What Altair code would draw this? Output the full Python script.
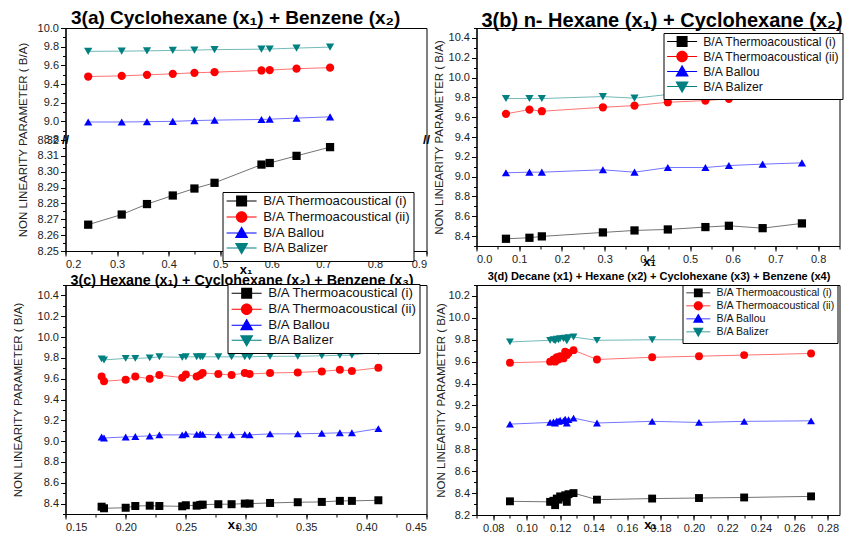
import altair as alt
import pandas as pd

SERIES = ["B/A Thermoacoustical (i)", "B/A Thermoacoustical (ii)", "B/A Ballou", "B/A Balizer"]
COLORS = ["#000000", "#ff0000", "#0000ff", "#008080"]
SHAPES = ["square", "circle", "triangle-up", "triangle-down"]
LEGEND_PATHS = [
    "M-5,-0.1H1V0.1H-5ZM-3.1,-1.1H-0.9V1.1H-3.1Z",
    "M-5,-0.1H1V0.1H-5ZM-0.85,0A1.15,1.15,0,1,1,-3.15,0A1.15,1.15,0,1,1,-0.85,0Z",
    "M-5,-0.1H1V0.1H-5ZM-2,-1.35L-0.65,1L-3.35,1Z",
    "M-5,-0.1H1V0.1H-5ZM-3.35,-1L-0.65,-1L-2,1.35Z",
]
Y_TITLE = "NON LINEARITY PARAMETER ( B/A)"
FONT = "Liberation Sans"

# ---------------- 3(a) ----------------
A_X = [0.244, 0.309, 0.358, 0.408, 0.450, 0.489, 0.580, 0.596, 0.648, 0.713]
A_TH1 = [8.2666, 8.2730, 8.2796, 8.2850, 8.2894, 8.2930, 8.3045, 8.3055, 8.3100, 8.3155]
A_TH2 = [9.480, 9.487, 9.498, 9.509, 9.520, 9.527, 9.545, 9.549, 9.564, 9.575]
A_BALLOU = [8.993, 8.993, 8.996, 9.000, 9.008, 9.013, 9.020, 9.023, 9.035, 9.048]
A_BALIZER = [9.750, 9.752, 9.755, 9.760, 9.763, 9.768, 9.773, 9.775, 9.785, 9.795]
A_LOW = [8.25, 8.32]
A_HIGH = [8.8, 10.0]

# ---------------- 3(b) ----------------
B_X = [0.069, 0.124, 0.153, 0.296, 0.370, 0.448, 0.536, 0.591, 0.670, 0.762]
B_TH1 = [8.373, 8.383, 8.397, 8.437, 8.457, 8.467, 8.491, 8.504, 8.480, 8.528]
B_TH2 = [9.634, 9.677, 9.660, 9.700, 9.717, 9.751, 9.768, 9.785, 9.876, 9.842]
B_BALLOU = [9.039, 9.045, 9.045, 9.069, 9.045, 9.092, 9.092, 9.112, 9.126, 9.139]
B_BALIZER = [9.788, 9.788, 9.788, 9.808, 9.792, 9.829, 9.832, 9.839, 9.859, 9.866]

# ---------------- 3(c) ----------------
C_X = [0.180, 0.182, 0.200, 0.208, 0.220, 0.228, 0.247, 0.250, 0.259, 0.262, 0.264,
       0.277, 0.288, 0.299, 0.303, 0.320, 0.343, 0.363, 0.378, 0.388, 0.410]
C_TH1 = [8.370, 8.355, 8.360, 8.377, 8.380, 8.377, 8.374, 8.384, 8.380, 8.387, 8.390,
         8.394, 8.394, 8.400, 8.400, 8.406, 8.413, 8.416, 8.426, 8.426, 8.432]
C_TH2 = [9.620, 9.575, 9.590, 9.620, 9.600, 9.635, 9.610, 9.640, 9.620, 9.635, 9.655,
         9.645, 9.635, 9.655, 9.645, 9.655, 9.660, 9.670, 9.685, 9.675, 9.705]
C_BALLOU = [9.040, 9.030, 9.040, 9.045, 9.050, 9.060, 9.060, 9.070, 9.065, 9.070, 9.065,
            9.060, 9.060, 9.065, 9.060, 9.070, 9.070, 9.075, 9.080, 9.080, 9.120]
C_BALIZER = [9.790, 9.780, 9.795, 9.795, 9.800, 9.810, 9.805, 9.810, 9.810, 9.810, 9.810,
             9.810, 9.810, 9.810, 9.810, 9.815, 9.815, 9.820, 9.825, 9.825, 9.860]

# ---------------- 3(d) ----------------
D_X = [0.090, 0.114, 0.116, 0.117, 0.118, 0.119, 0.120, 0.122, 0.123, 0.124, 0.125,
       0.128, 0.142, 0.175, 0.203, 0.230, 0.270]
D_TH1 = [8.325, 8.320, 8.330, 8.290, 8.350, 8.340, 8.370, 8.360, 8.380, 8.320, 8.390,
         8.400, 8.340, 8.350, 8.355, 8.360, 8.370]
D_TH2 = [9.590, 9.600, 9.620, 9.600, 9.640, 9.620, 9.650, 9.630, 9.690, 9.660, 9.680,
         9.705, 9.620, 9.640, 9.650, 9.660, 9.675]
D_BALLOU = [9.030, 9.045, 9.050, 9.040, 9.060, 9.055, 9.065, 9.060, 9.075, 9.040, 9.070,
            9.085, 9.040, 9.055, 9.045, 9.055, 9.060]
D_BALIZER = [9.780, 9.795, 9.800, 9.790, 9.805, 9.800, 9.810, 9.810, 9.815, 9.790, 9.820,
             9.825, 9.795, 9.800, 9.800, 9.805, 9.805]

TITLES = [
    "3(a) Cyclohexane (x₁) + Benzene (x₂)",
    "3(b) n- Hexane (x₁) + Cyclohexane (x₂)",
    "3(c) Hexane (x₁) + Cyclohexane (x₂) + Benzene (x₃)",
    "3(d) Decane (x1) + Hexane (x2) + Cyclohexane (x3) + Benzene (x4)",
]


def long_df(xs, cols):
    rows = []
    for name, vals in zip(SERIES, cols):
        for i, (xv, yv) in enumerate(zip(xs, vals)):
            rows.append({"x": xv, "y": yv, "series": name, "i": i})
    return pd.DataFrame(rows)


def ticks(lo, hi, step):
    n = int(round((hi - lo) / step))
    return [round(lo + k * step, 4) for k in range(n + 1)]


def major_axis(values, fmt, title, orient, label_expr=None, **kw):
    extra = {"labelExpr": label_expr} if label_expr else {}
    return alt.Axis(values=values, format=fmt, title=title, orient=orient, tickSize=5,
                    labelOverlap=False, grid=False, **extra, **kw)


def minor_axis(values, orient):
    return alt.Axis(values=values, labels=False, domain=False, tickSize=3, title=None,
                    orient=orient, grid=False)


def y_title_kw(tx, ty=None):
    kw = dict(titleX=tx, titleAngle=270, titleBaseline="middle", titleAlign="center",
              titleFontWeight="normal", titleFontSize=11.5)
    if ty is not None:
        kw["titleY"] = ty
    return kw


def x_title_kw(tx, ty):
    return dict(titleX=tx, titleY=ty, titleBaseline="top", titleAlign="center",
                titleFontWeight="bold", titleFontSize=13, titleColor="black")


def make_legend(lx, ly, fs, rowpad, sym=100, off=20):
    return alt.Legend(orient="none", legendX=lx, legendY=ly, title=None,
                      strokeColor="black", fillColor="white", padding=2.5,
                      labelFont=FONT, labelFontSize=fs, labelColor="#111", labelLimit=400,
                      symbolSize=sym, symbolOffset=off, symbolOpacity=1,
                      labelOffset=5, rowPadding=rowpad, cornerRadius=0)


one = pd.DataFrame({"k": [0]})


def legend_layer(df, legend):
    cscale = alt.Scale(domain=SERIES, range=COLORS)
    return alt.Chart(df).transform_filter("false").mark_point(filled=True, opacity=1).encode(
        x=alt.X("x:Q", axis=None), y=alt.Y("y:Q", axis=None),
        color=alt.Color("series:N", scale=cscale, legend=legend),
        shape=alt.Shape("series:N", scale=alt.Scale(domain=SERIES, range=LEGEND_PATHS),
                        legend=legend))


def title_text(text, xv, yv, size, align, dx, dy):
    return alt.Chart(one).mark_text(text=text, font=FONT, fontSize=size, fontWeight="bold",
                                    color="black", align=align, baseline="alphabetic",
                                    dx=dx, dy=dy).encode(
        x=alt.X(datum=xv, axis=None), y=alt.Y(datum=yv, axis=None))


def brk(xv, yv):
    return alt.Chart(one).mark_text(text="//", font=FONT, fontSize=13, fontWeight="bold",
                                    color="black").encode(
        x=alt.X(datum=xv, axis=None), y=alt.Y(datum=yv, axis=None))


def panel(df, xdom, ydom, xaxis, yaxis, xminor, yminor, legend, extras=(), size=68,
          yfield="y", calc=None):
    base = alt.Chart(df)
    if calc is not None:
        base = base.transform_calculate(**{yfield: calc})
    xs = alt.Scale(domain=xdom, nice=False, zero=False)
    ys = alt.Scale(domain=ydom, nice=False, zero=False)
    layers = []
    for k, (name, col, shp) in enumerate(zip(SERIES, COLORS, SHAPES)):
        sub = base.transform_filter(alt.datum.series == name)
        if k == 0:
            x = alt.X("x:Q", scale=xs, axis=xaxis)
            y = alt.Y(f"{yfield}:Q", scale=ys, axis=yaxis)
        else:
            x = alt.X("x:Q", axis=None)
            y = alt.Y(f"{yfield}:Q", axis=None)
        layers.append(sub.mark_line(strokeWidth=1, opacity=0.55, color=col).encode(
            x=x, y=y, order="i:Q"))
        layers.append(sub.mark_point(filled=True, size=size, opacity=1, color=col,
                                     shape=shp).encode(
            x=alt.X("x:Q", axis=None), y=alt.Y(f"{yfield}:Q", axis=None)))
    layers.extend(extras)
    layers.append(alt.Chart(one).transform_filter("false").mark_point().encode(
        x=alt.X("k:Q", axis=minor_axis(xminor, "bottom")),
        y=alt.Y("k:Q", axis=minor_axis(yminor, "left"))))
    layers.append(legend_layer(df, legend))
    return alt.layer(*layers).resolve_axis(x="independent", y="independent")


# ---------- panel a (broken axis mapped onto a 0..223 virtual scale) ----------
HL, HH = 111, 112
SPAN_L = A_LOW[1] - A_LOW[0]
SPAN_H = A_HIGH[1] - A_HIGH[0]
a_calc = (f"datum.y > 8.5 ? {HL} + (datum.y - {A_HIGH[0]}) * {HH} / {SPAN_H}"
          f" : (datum.y - {A_LOW[0]}) * {HL} / {SPAN_L}")


def v_low(t):
    return round((t - A_LOW[0]) * HL / SPAN_L, 4)


def v_high(t):
    return round(HL + (t - A_HIGH[0]) * HH / SPAN_H, 4)


a_major = [v_low(t) for t in ticks(A_LOW[0], A_LOW[1], 0.01)] + \
          [v_high(t) + (0.01 if k == 0 else 0) for k, t in enumerate(ticks(A_HIGH[0], A_HIGH[1], 0.2))]
a_minor = [v_low(t) for t in ticks(A_LOW[0], A_LOW[1], 0.005)] + \
          [v_high(t) for t in ticks(A_HIGH[0], A_HIGH[1], 0.1)]
real_hi = f"({A_HIGH[0]} + (datum.value - {HL}) * {SPAN_H} / {HH})"
real_lo = f"({A_LOW[0]} + datum.value * {SPAN_L} / {HL})"
a_label = f"datum.value > {HL + 0.005} ? format({real_hi}, '.1f') : format({real_lo}, '.2f')"

df_a = long_df(A_X, [A_TH1, A_TH2, A_BALLOU, A_BALIZER])
a_chart = panel(
    df_a, [0.2, 0.9], [0, HL + HH],
    major_axis(ticks(0.2, 0.9, 0.1), ".1f", "x₁", "bottom", **x_title_kw(180, 12)),
    major_axis(a_major, ".2f", Y_TITLE, "left", label_expr=a_label, **y_title_kw(-42.5)),
    ticks(0.2, 0.9, 0.05), a_minor,
    make_legend(157, 164, 13.2, -5.4),
    extras=[brk(0.2, HL), brk(0.9, HL),
            title_text(TITLES[0], 0.2, HL + HH, 19, "left", 5.5, -4)],
    yfield="v", calc=a_calc,
).properties(width=361, height=HL + HH)

df_b = long_df(B_X, [B_TH1, B_TH2, B_BALLOU, B_BALIZER])
b_chart = panel(
    df_b, [0.0, 0.85], [8.3, 10.5],
    major_axis(ticks(0.0, 0.8, 0.1), ".1f", "x₁", "bottom", **x_title_kw(172.5, 9)),
    major_axis(ticks(8.4, 10.4, 0.2), ".1f", Y_TITLE, "left", **y_title_kw(-37.5)),
    ticks(0.0, 0.85, 0.05), ticks(8.3, 10.5, 0.1),
    make_legend(187, 5, 12.2, -7.2),
    extras=[title_text(TITLES[1], 0.425, 10.5, 20, "center", 4, -1)],
).properties(width=363, height=218)

df_c = long_df(C_X, [C_TH1, C_TH2, C_BALLOU, C_BALIZER])
c_chart = panel(
    df_c, [0.15, 0.45], [8.3, 10.5],
    major_axis(ticks(0.15, 0.45, 0.05), ".2f", "x₁", "bottom", **x_title_kw(168, 4)),
    major_axis(ticks(8.4, 10.4, 0.2), ".1f", Y_TITLE, "left", **y_title_kw(-47)),
    ticks(0.15, 0.45, 0.025), ticks(8.3, 10.5, 0.1),
    make_legend(162, -1, 13.3, -6.2), size=64,
    extras=[title_text(TITLES[2], 0.30, 10.5, 14.3, "center", -4, 0)],
).properties(width=361, height=229)

df_d = long_df(D_X, [D_TH1, D_TH2, D_BALLOU, D_BALIZER])
d_chart = panel(
    df_d, [0.07, 0.287], [8.2, 10.3],
    major_axis(ticks(0.08, 0.28, 0.02), ".2f", "x₁", "bottom", **x_title_kw(173.5, 3)),
    major_axis(ticks(8.2, 10.2, 0.2), ".1f", Y_TITLE, "left", **y_title_kw(-35.5)),
    ticks(0.07, 0.28, 0.01), ticks(8.2, 10.3, 0.1),
    make_legend(206, 0, 10.6, -6.5, sym=64, off=16), size=62,
    extras=[title_text(TITLES[3], 0.1785, 10.3, 11, "center", 1, -5.5)],
).properties(width=363, height=230)

RES = dict(color="independent", shape="independent")
chart = alt.concat(a_chart, b_chart, c_chart, d_chart, columns=2,
                   spacing={"row": 34, "column": 50}, bounds="flush")
chart = chart.resolve_scale(**RES).resolve_legend(**RES).properties(
    padding={"left": 3.5, "top": 0, "right": 0, "bottom": 0},
    background="white",
).configure_axis(
    labelFont=FONT, labelFontSize=11, labelColor="#222", titleFont=FONT, titleColor="#222",
    domainColor="black", domainWidth=1.2, tickColor="black", tickWidth=1, labelPadding=2,
).configure_view(stroke="black", strokeWidth=1)

chart.save("out.html", embed_options={"renderer": "svg", "actions": False})
